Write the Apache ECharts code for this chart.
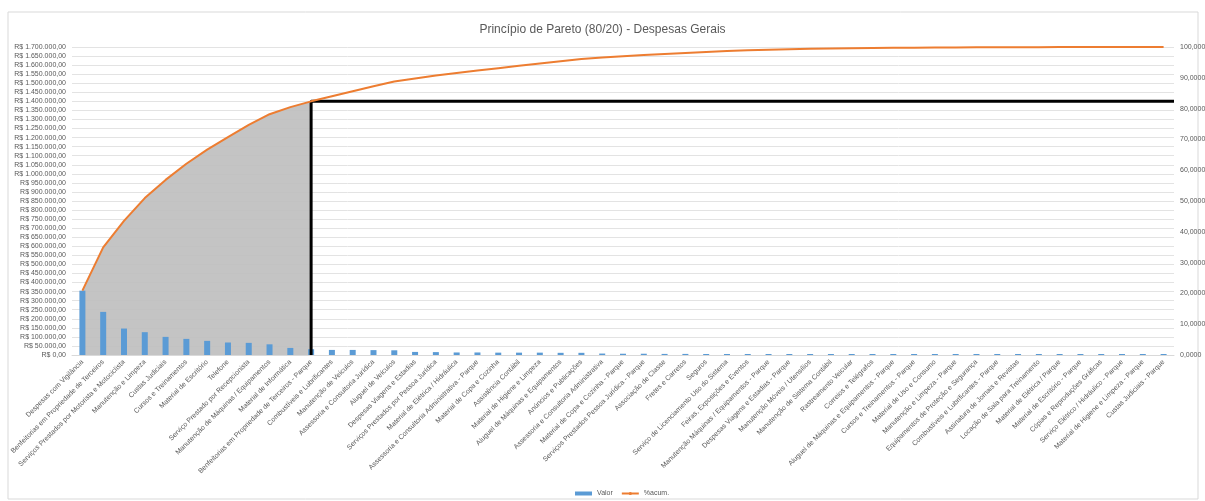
<!DOCTYPE html>
<html>
<head>
<meta charset="utf-8">
<title>Pareto - Despesas Gerais</title>
<script src="https://cdn.jsdelivr.net/npm/echarts@6/dist/echarts.min.js"></script>
<style>
html,body{margin:0;padding:0;background:#fff}
#chart{width:1205px;height:501px}
</style>
</head>
<body>
<div id="chart"></div>
<script>
// categorias (ordem do gráfico)
var categorias = [
  "Despesas com Vigilância",
  "Benfeitorias em Propriedade de Terceiros",
  "Serviços Prestados por Motorista e Motociclista",
  "Manutenção e Limpeza",
  "Custas Judiciais",
  "Cursos e Treinamentos",
  "Material de Escritório",
  "Telefone",
  "Serviço Prestado por Recepcionista",
  "Manutenção de Máquinas / Equipamentos",
  "Material de Informática",
  "Benfeitorias em Propriedade de Terceiros - Parque",
  "Combustíveis e Lubrificantes",
  "Manutenção de Veículos",
  "Assessoria e Consultoria Jurídica",
  "Aluguel de Veículos",
  "Despesas Viagens e Estadias",
  "Serviços Prestados por Pessoa Jurídica",
  "Material de Elétrica / Hidráulica",
  "Assessoria e Consultoria Administrativa - Parque",
  "Material de Copa e Cozinha",
  "Assistência Contábil",
  "Material de Higiene e Limpeza",
  "Aluguel de Máquinas e Equipamentos",
  "Anúncios e Publicações",
  "Assessoria e Consultoria Administrativa",
  "Material de Copa e Cozinha - Parque",
  "Serviços Prestados Pessoa Jurídica - Parque",
  "Associação de Classe",
  "Fretes e Carretos",
  "Seguros",
  "Serviço de Licenciamento Uso do Sistema",
  "Feiras, Exposições e Eventos",
  "Manutenção Máquinas / Equipamentos - Parque",
  "Despesas Viagens e Estadias - Parque",
  "Manutenção Móveis / Utensílios",
  "Manutenção de Sistema Contábil",
  "Rastreamento Veicular",
  "Correios e Telégrafos",
  "Aluguel de Máquinas e Equipamentos - Parque",
  "Cursos e Treinamentos - Parque",
  "Material de Uso e Consumo",
  "Manutenção e Limpeza - Parque",
  "Equipamentos de Proteção e Segurança",
  "Combustíveis e Lubrificantes - Parque",
  "Assinatura de Jornais e Revistas",
  "Locação de Sala para Treinamento",
  "Material de Elétrica / Parque",
  "Material de Escritório - Parque",
  "Cópias e Reproduções Gráficas",
  "Serviço Elétrico / Hidráulico - Parque",
  "Material de Higiene e Limpeza - Parque",
  "Custas Judiciais - Parque"
];

// valores em R$
var valores = [
  355000, 238000, 146000, 126000, 100000, 89000, 78000, 69000, 67000, 59000, 39000, 32000,
  28000, 28000, 27000, 26000, 17000, 16000, 14000, 14000, 13000, 13000, 13000, 12000, 12000,
  8000, 7000, 7000, 6000, 6000, 5000, 5000, 4000, 4000,
  2500, 2000, 1800, 1500, 1200, 1000, 800, 700, 600, 500, 400, 350, 300, 250, 200, 150, 100, 80, 50
];

// eixos
var eixoValor = {min: 0, max: 1700000, interval: 50000};
var eixoPerc = {min: 0, max: 100, interval: 10};
var corteIndice = 11; // última categoria dentro dos 80%

// % acumulado
var total = valores.reduce(function(a, b){ return a + b; }, 0);
var acumulado = [];
var soma = 0;
valores.forEach(function(v){
  soma += v;
  acumulado.push(soma / total * 100);
});

// área cinza até o corte
var areaCorte = acumulado.map(function(v, i){ return i <= corteIndice ? v : null; });
var nivelCorte = acumulado[corteIndice];

function formatReal(v){
  var s = Math.round(v).toString().replace(/\B(?=(\d{3})+(?!\d))/g, ".");
  return "R$ " + s + ",00";
}

var myChart = echarts.init(document.getElementById("chart"));
var fonte = "Liberation Sans, Arial, sans-serif";
var cinzaTexto = "#595959";

var option = {
  animation: false,
  backgroundColor: "#fff",
  textStyle: {fontFamily: fonte},
  title: {
    text: "Princípio de Pareto (80/20) - Despesas Gerais",
    left: "center",
    top: 19,
    textStyle: {fontSize: 12, fontWeight: "normal", color: cinzaTexto, fontFamily: fonte}
  },
  graphic: [{
    type: "rect",
    shape: {x: 8, y: 12, width: 1190, height: 487},
    style: {fill: "none", stroke: "#d9d9d9", lineWidth: 1},
    silent: true,
    z: -10
  }],
  legend: {
    top: 485,
    left: 570,
    itemGap: 8,
    itemWidth: 17,
    itemHeight: 4,
    textStyle: {fontSize: 7, color: cinzaTexto},
    data: [
      {name: "Valor", icon: "rect"},
      {name: "%acum."}
    ]
  },
  grid: {left: 72, right: 31, top: 47, bottom: 146, containLabel: false, outerBoundsMode: "none"},
  xAxis: [{
    type: "category",
    data: categorias,
    axisLine: {lineStyle: {color: "#d9d9d9"}},
    axisTick: {show: false},
    axisLabel: {interval: 0, rotate: 45, fontSize: 7, color: cinzaTexto, margin: 6}
  }, {
    type: "value",
    min: 0,
    max: categorias.length,
    show: false
  }],
  yAxis: [{
    type: "value",
    min: eixoValor.min,
    max: eixoValor.max,
    interval: eixoValor.interval,
    axisLine: {show: false},
    axisTick: {show: false},
    splitLine: {lineStyle: {color: "#e3e3e3"}},
    axisLabel: {fontSize: 7, color: cinzaTexto, margin: 6, formatter: formatReal}
  }, {
    type: "value",
    min: eixoPerc.min,
    max: eixoPerc.max,
    interval: eixoPerc.interval,
    position: "right",
    axisLine: {show: false},
    axisTick: {show: false},
    splitLine: {show: false},
    axisLabel: {fontSize: 7, color: cinzaTexto, margin: 6, formatter: function(v){ return v.toFixed(4).replace(".", ","); }}
  }],
  series: [{
    name: "area",
    type: "line",
    yAxisIndex: 1,
    data: areaCorte,
    symbol: "none",
    lineStyle: {width: 0},
    areaStyle: {color: "#bfbfbf", opacity: 0.92},
    z: 1,
    silent: true
  }, {
    name: "Valor",
    type: "bar",
    data: valores,
    barWidth: 6,
    barMinHeight: 1,
    itemStyle: {color: "#5b9bd5"},
    z: 2
  }, {
    name: "corte",
    type: "line",
    xAxisIndex: 1,
    yAxisIndex: 1,
    data: [[corteIndice + 0.5, 0], [corteIndice + 0.5, nivelCorte], [categorias.length, nivelCorte]],
    symbol: "none",
    lineStyle: {color: "#000", width: 3},
    z: 3,
    silent: true
  }, {
    name: "%acum.",
    type: "line",
    yAxisIndex: 1,
    data: acumulado,
    symbol: "none",
    lineStyle: {color: "#ed7d31", width: 2},
    itemStyle: {color: "#ed7d31"},
    z: 4
  }]
};
myChart.setOption(option);
</script>
</body>
</html>
